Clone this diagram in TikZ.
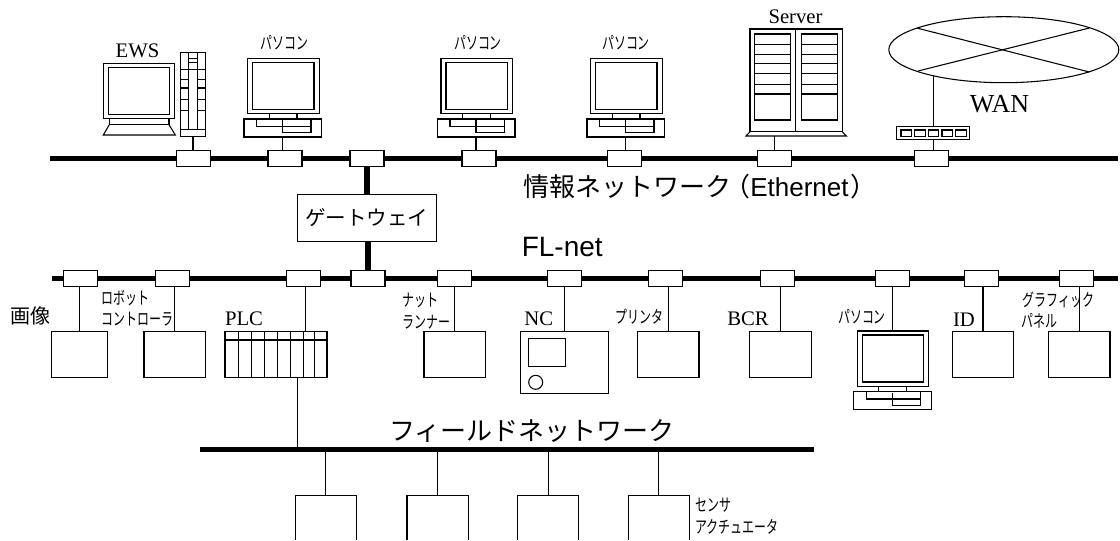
\documentclass[tikz,border=0pt]{standalone}
\usetikzlibrary{shapes.geometric}
\usepackage{fontspec}
\setmainfont{Liberation Serif}
\newfontfamily\cjkwide{Noto Sans CJK JP}
\newfontfamily\cjknarrow[FakeStretch=0.69]{Noto Sans CJK JP}
\newfontfamily\latinsans{Liberation Sans}
\tikzset{
  line/.style={draw=black,line width=0.8pt},
  bus/.style={draw=black,line width=4pt},
  wire/.style={draw=black,line width=0.8pt},
  tap/.style={line,fill=white,minimum width=25.5pt,minimum height=12pt,inner sep=0pt,outer sep=0pt},
  bx/.style 2 args={line,fill=white,minimum width=#1*0.75pt,minimum height=#2*0.75pt,inner sep=0pt,outer sep=0pt},
  small/.style={font=\cjknarrow\fontsize{13}{14}\selectfont,inner sep=0pt,anchor=west},
  serif/.style={font=\fontsize{15.5}{16}\selectfont,inner sep=0pt},
  big/.style={font=\cjkwide\fontsize{19.5}{20}\selectfont,inner sep=0pt,anchor=west},
  pics/pcunit/.style={code={
    \draw[line,fill=white] (-35,0) rectangle (36.6,55.4);
    \draw[line] (-30,4) rectangle (31.3,51);
    \draw[line] (-13.4,55.4) rectangle (14.3,60.7);
    \draw[line,fill=white] (-38.7,60.7) rectangle (39,78.7);
    \draw[line] (-26,60.7) -- (-26,68) -- (28.3,68);
    \draw[line] (28.3,60) -- (28.3,74.4) -- (0,74.4) -- (0,61.5);
    \coordinate (-kb) at (0,78.7);
    \coordinate (-top) at (0,0);
  }}
}
\begin{document}
\begin{tikzpicture}[x=0.75pt,y=-0.75pt]
\useasboundingbox (0,0) rectangle (1120,540);
% coordinates of bus ends
\coordinate (eL) at (50,158.3);
\coordinate (eR) at (1118,158.3);
\coordinate (fL) at (52.3,278.3);
\coordinate (fR) at (1118,278.3);
\coordinate (gL) at (200,449.3);
\coordinate (gR) at (814,449.3);
\draw[bus] (eL) -- (eR);
\draw[bus] (fL) -- (fR);
\draw[bus] (gL) -- (gR);
% Ethernet taps
\node[tap] (e1) at (193.7,158.7) {};
\node[tap] (e2) at (285,158.7) {};
\node[tap] (e3) at (367,158.7) {};
\node[tap] (e4) at (479,158.7) {};
\node[tap] (e5) at (624.7,158.7) {};
\node[tap] (e6) at (774.3,158.7) {};
\node[tap] (e7) at (931.7,158.7) {};
% FL-net taps
\node[tap] (f1) at (80.5,278.5) {};
\node[tap] (f2) at (172.2,278.5) {};
\node[tap] (f3) at (303.8,278.5) {};
\node[tap] (f4) at (368,278.5) {};
\node[tap] (f5) at (454.2,278.5) {};
\node[tap] (f6) at (564.3,278.5) {};
\node[tap] (f7) at (665.7,278.5) {};
\node[tap] (f8) at (777.7,278.5) {};
\node[tap] (f9) at (892.3,278.5) {};
\node[tap] (f10) at (981.3,278.5) {};
\node[tap] (f11) at (1076.3,278.5) {};
% Gateway
\node[bx={139.3}{47.4},font=\cjkwide\fontsize{15.4}{16}\selectfont] (gw) at (366.7,218) {ゲートウェイ};
\draw[line width=3.8pt] (e3.south) -- (gw.north -| e3.south);
\draw[line width=3.8pt] (gw.south -| f4.north) -- (f4.north);
% EWS
\draw[line,fill=white] (103.3,63.3) rectangle (174.7,118.7);
\draw[line] (108.3,67.7) rectangle (169.7,114.7);
\draw[line] (109.3,118.7) rectangle (169,124.7);
\draw[line] (109.3,124.7) -- (103.3,135) -- (175.3,135) -- (169,124.7);
\draw[line] (180.3,52.3) rectangle (205.7,136.7);
\draw[line] (188.7,52.3) -- (188.7,129.3);
\draw[line] (197.7,52.3) -- (197.7,129.3);
\draw[line] (180.3,129.3) -- (205.7,129.3);
\foreach \yy in {69.3,79.3,88,99.3,110.7}{
  \draw[line] (180.3,\yy) -- (188.7,\yy);
  \draw[line] (197.7,\yy) -- (205.7,\yy);
}
\foreach \yy in {58.3,62.3,69.3}{\draw[line] (188.7,\yy) -- (197.7,\yy);}
\coordinate (towerb) at (193,136.7);
\draw[wire] (towerb) -- (towerb |- e1.north);
% PCs
\pic (p1) at (282.7,58.3) {pcunit};
\pic (p2) at (476,58.3) {pcunit};
\pic (p3) at (625.7,58.3) {pcunit};
\pic (p4) at (892.3,331) {pcunit};
\draw[wire] (p1-kb) -- (p1-kb |- e2.north);
\draw[wire] (p2-kb) -- (p2-kb |- e4.north);
\draw[wire] (p3-kb) -- (p3-kb |- e5.north);
\draw[wire] (f9.south) -- (p4-top);
% Server
\draw[line] (750,29) rectangle (842.3,131.7);
\draw[line] (795.7,29) -- (795.7,131.7);
\draw[line] (750,131.7) -- (746,136) -- (846.3,136) -- (842.3,131.7);
\draw[line] (754.7,34) rectangle (790.3,120);
\draw[line] (801.7,34) rectangle (837.3,120);
\foreach \yy in {44.7,54.3,63.3,73.3,84.3,94}{
  \draw[line] (754.7,\yy) -- (790.3,\yy);
  \draw[line] (801.7,\yy) -- (837.3,\yy);
}
\coordinate (srvb) at (774.7,136);
\draw[wire] (srvb) -- (srvb |- e6.north);
% WAN
\node[line,ellipse,minimum width=172.5pt,minimum height=49.5pt,inner sep=0pt,outer sep=0pt] (wan) at (1003.8,49.7) {};
\draw[line] (916.7,28) -- (1089.3,72);
\draw[line] (1089.3,28) -- (918,71);
\node[bx={73.3}{12.6}] (hub) at (933.3,133) {};
\foreach \xx in {901,914.7,928.3,942,955.7}{
  \draw[line,line width=0.8pt] (\xx,130) rectangle ++(10.6,6.3);
}
\coordinate (wantap) at (933.3,76);
\draw[wire] (wantap) -- (hub.north);
\draw[wire] (hub.south) -- (hub.south |- e7.north);
% FL-net devices
\node[bx={56}{45.7}] (b1) at (79.7,354.2) {};
\node[bx={61.7}{45.7}] (b2) at (174.85,354.2) {};
\node[bx={102}{45.7}] (plc) at (276,354.2) {};
\draw[line] (225,340) -- (327,340);
\foreach \xx in {238.7,251.7,264.7,277.3,290.3,303.3,314.7}{
  \draw[line] (\xx,331.3) -- (\xx,377);
}
\node[bx={61.7}{45.7}] (b5) at (454.85,354.2) {};
\node[bx={88}{61.6}] (nc) at (564.3,362.5) {};
\draw[line] (528.3,338.7) rectangle (565.7,366.7);
\node[line,circle,minimum size=10.5pt,inner sep=0pt] (ncdial) at (535.7,382.3) {};
\node[bx={61.3}{45.7}] (b7) at (668.35,354.2) {};
\node[bx={61.6}{45.7}] (b8) at (780.5,354.2) {};
\node[bx={61.4}{45.7}] (b10) at (983,354.2) {};
\node[bx={61.7}{45.7}] (b11) at (1079.15,354.2) {};
\draw[wire] (b1.north) -- (b1.north |- f1.south);
\draw[wire] (b2.north) -- (b2.north |- f2.south);
\coordinate (plct) at (305.7,331.3);
\draw[wire] (plct) -- (plct |- f3.south);
\draw[wire] (b5.north) -- (b5.north |- f5.south);
\draw[wire] (nc.north) -- (nc.north |- f6.south);
\draw[wire] (b7.north) -- (b7.north |- f7.south);
\draw[wire] (b8.north) -- (b8.north |- f8.south);
\draw[wire] (b10.north) -- (b10.north |- f10.south);
\draw[wire] (b11.north) -- (b11.north |- f11.south);
\coordinate (plcb) at (297.7,377);
\draw[wire] (plcb) -- (plcb |- gL);
% field devices (cut off by the page bottom)
\foreach \nn/\xa/\xb/\xc in {1/295.3/356.5/325.9,2/407/468.3/437.3,3/517.6/578.9/548.2,4/628.2/689.5/658.9}{
  \coordinate (d\nn) at (\xc,495.3);
  \draw[line] (\xa,540) -- (\xa,495.3) -- (\xb,495.3) -- (\xb,540);
  \draw[wire] (d\nn) -- (d\nn |- gL);
}
% Labels
\node[serif] (lews) at (137.5,50.7) {EWS};
\node[serif] (lsrv) at (795.5,17) {Server};
\node[small,anchor=center] (lp1) at (284.5,43) {パソコン};
\node[small,anchor=center] (lp2) at (478,43) {パソコン};
\node[small,anchor=center] (lp3) at (626,43) {パソコン};
\node[small,anchor=center] (lp4) at (862,317) {パソコン};
\node[font=\fontsize{19.5}{20}\selectfont,inner sep=0pt] (lwan) at (999.5,104) {WAN};
\node[big] (leth) at (523,187) {情報ネットワーク\hspace{-5.25pt}（\latinsans Ethernet\cjkwide\hspace{1.5pt}）};
\node[font=\latinsans\fontsize{21}{22}\selectfont,inner sep=0pt,anchor=west] (lfl) at (521.5,247) {FL-net};
\node[big] (lfield) at (389,431) {フィールドネットワーク};
\node[font=\cjkwide\fontsize{15}{16}\selectfont,inner sep=0pt] (limg) at (31,316) {画像};
\node[small] (lrb1) at (101,297.7) {ロボット};
\node[small] (lrb2) at (101,319.5) {コントローラ};
\node[serif] (lplc) at (244,319) {PLC};
\node[small] (lnut1) at (402.7,300) {ナット};
\node[small] (lnut2) at (402.7,322.5) {ランナー};
\node[serif] (lnc) at (538.7,319) {NC};
\node[small] (lprn) at (615,317) {プリンタ};
\node[serif] (lbcr) at (748,319) {BCR};
\node[serif] (lid) at (964,319.5) {ID};
\node[small] (lgr1) at (1022.3,300) {グラフィック};
\node[small] (lgr2) at (1021.7,320.5) {パネル};
\node[small] (lsen1) at (695,505) {センサ};
\node[small] (lsen2) at (695,526.5) {アクチュエータ};
\end{tikzpicture}
\end{document}
